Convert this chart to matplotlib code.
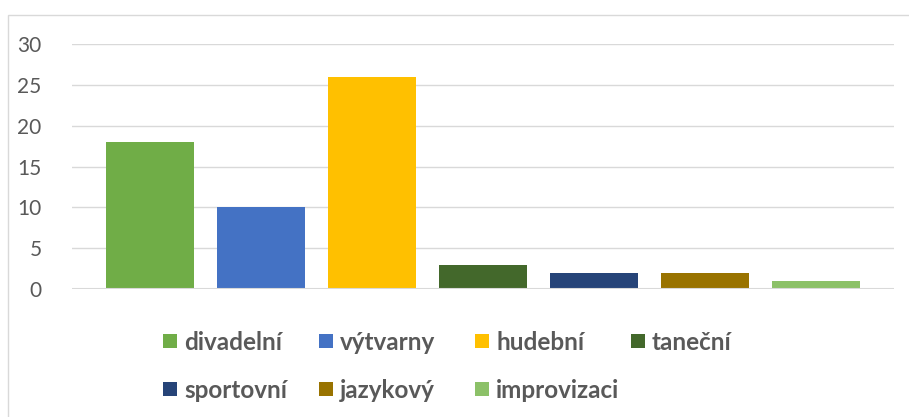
import matplotlib
matplotlib.use("Agg")
import matplotlib.pyplot as plt
from matplotlib.patches import Rectangle

categories = ["divadelní", "výtvarny", "hudební", "taneční", "sportovní", "jazykový", "improvizaci"]
values = [18, 10, 26, 3, 2, 2, 1]
colors = ["#70AD47", "#4472C4", "#FFC000", "#43682B", "#264478", "#997300", "#8CC168"]
yticks = [0, 5, 10, 15, 20, 25, 30]

W, H = 909, 417
fig = plt.figure(figsize=(W / 100, H / 100), dpi=100)
plt.rcParams['font.family'] = ['Lato', 'DejaVu Sans']

# chart border
fig.patches.append(Rectangle((8 / W, -0.2), 2, (H - 15) / H + 0.2, transform=fig.transFigure,
                             fill=False, edgecolor="#d9d9d9", linewidth=1.0, clip_on=False))

ax = fig.add_axes([72 / W, 1 - 289 / H, (894 - 72) / W, (289 - 44) / H])
x = list(range(len(categories)))
ax.bar(x, values, width=0.80, color=colors, zorder=3)
ax.set_xlim(-0.703, 6.703)
ax.set_ylim(0, 30)
ax.set_yticks(yticks)
ax.set_yticklabels([str(v) for v in yticks], fontsize=15, color="#595959")
ax.tick_params(axis='y', length=0, pad=22)
ax.set_xticks([])
for s in ax.spines.values():
    s.set_visible(False)
ax.grid(axis='y', color="#d9d9d9", linewidth=1.0, zorder=0)
ax.axhline(0, color="#d9d9d9", linewidth=1.5, zorder=4)

# legend laid out like Excel: 4 equal columns, 2 rows
for i, (name, c) in enumerate(zip(categories, colors)):
    row, col = divmod(i, 4)
    px = 163 + 156 * col
    py = 341 + 48 * row
    fig.patches.append(Rectangle((px / W, 1 - (py + 7) / H), 14 / W, 14 / H,
                                 transform=fig.transFigure, facecolor=c, edgecolor='none'))
    fig.text((px + 21) / W, 1 - (py + 1) / H, name, fontsize=17.5, fontweight='bold',
             color="#595959", va='center', ha='left')

fig.savefig("out.png", dpi=100, facecolor="white")
